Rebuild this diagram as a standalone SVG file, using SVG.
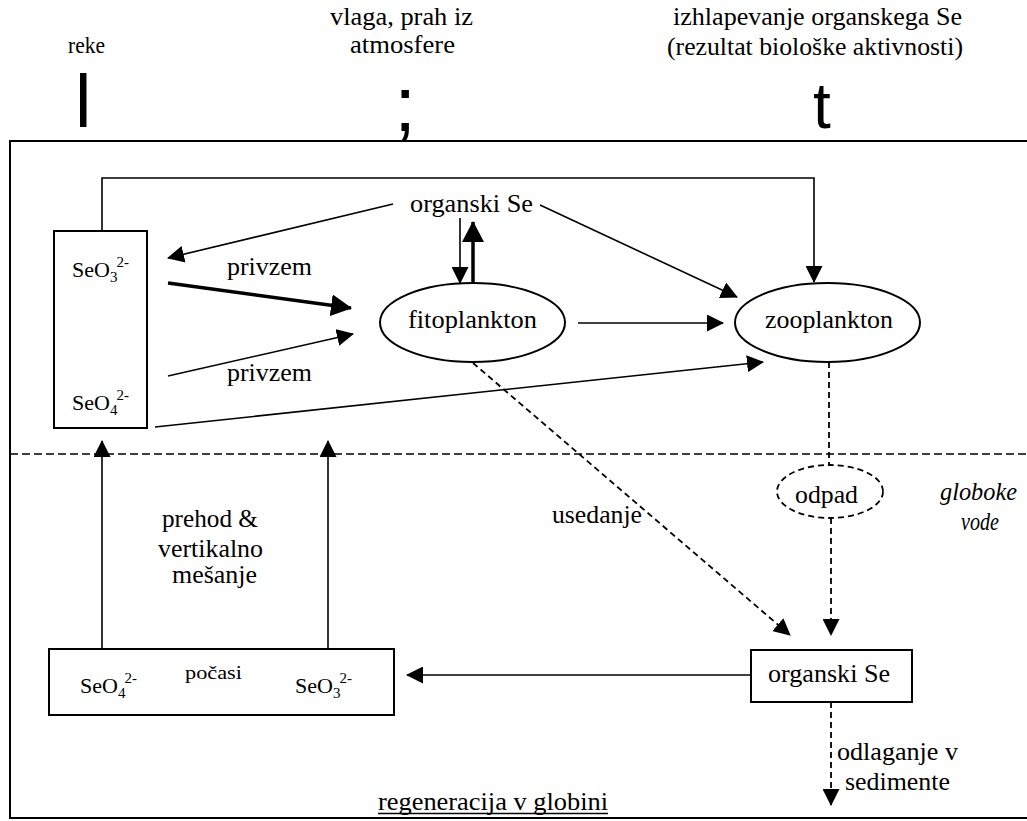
<svg xmlns="http://www.w3.org/2000/svg" width="1027" height="821" viewBox="0 0 1027 821">
<style>
text{font-family:"Liberation Serif","Times New Roman",serif;font-size:25px;fill:#000}
text.big{font-family:"Liberation Sans",Arial,sans-serif}
text.f{font-size:22px}
.ln{fill:none;stroke:#000;stroke-width:1.6}
.th{fill:none;stroke:#000;stroke-width:3.5}
.ds{fill:none;stroke:#000;stroke-width:1.8;stroke-dasharray:6,4}
.bx{fill:#fff;stroke:#000;stroke-width:2}
.el{fill:#fff;stroke:#000;stroke-width:2}
text .sm{font-size:15px}
</style>
<defs>
<marker id="a" markerUnits="userSpaceOnUse" markerWidth="17" markerHeight="17" refX="16" refY="8.5" orient="auto"><path d="M0,0 L17,8.5 L0,17 z" fill="#000"/></marker>
<marker id="ab" markerUnits="userSpaceOnUse" markerWidth="21" markerHeight="22" refX="20" refY="11" orient="auto"><path d="M0,0 L21,11 L0,22 z" fill="#000"/></marker>
</defs>
<rect width="1027" height="821" fill="#fff"/>
<g id="frame">
<path d="M1030,141 H10 V818 H1030" fill="none" stroke="#000" stroke-width="2"/>
<line x1="10" y1="454" x2="1027" y2="454" stroke="#000" stroke-width="1.6" stroke-dasharray="8,4"/>
</g>
<g id="inputs">
<text x="68" y="53" style="font-size:23px" textLength="37" lengthAdjust="spacingAndGlyphs">reke</text>
<text class="big" x="75" y="127" style="font-size:74px">l</text>
<text x="330" y="25" textLength="143" lengthAdjust="spacingAndGlyphs">vlaga, prah iz</text>
<text x="350" y="53" textLength="105" lengthAdjust="spacingAndGlyphs">atmosfere</text>
<text class="big" x="405" y="131" style="font-size:78px" text-anchor="middle">;</text>
<text x="673" y="25" textLength="289" lengthAdjust="spacingAndGlyphs">izhlapevanje organskega Se</text>
<text x="667" y="55" textLength="296" lengthAdjust="spacingAndGlyphs">(rezultat biološke aktivnosti)</text>
<text class="big" x="822" y="128" style="font-size:64px" text-anchor="middle">t</text>
</g>
<g id="connectors">
<path class="ln" d="M102,231 V178 H814 V282" marker-end="url(#a)"/>
<line class="ln" x1="393" y1="204" x2="168" y2="258" marker-end="url(#a)"/>
<line class="ln" x1="540" y1="205" x2="737" y2="297" marker-end="url(#a)"/>
<line class="ln" x1="460" y1="218" x2="460" y2="283" marker-end="url(#a)"/>
<line class="th" x1="473" y1="283" x2="473" y2="222" marker-end="url(#ab)"/>
<line class="th" x1="168" y1="283" x2="351" y2="308" marker-end="url(#ab)"/>
<line class="ln" x1="168" y1="376" x2="353" y2="334" stroke-width="2" marker-end="url(#a)"/>
<line class="ln" x1="578" y1="323" x2="723" y2="323" stroke-width="2.4" marker-end="url(#a)"/>
<line class="ln" x1="155" y1="427" x2="763" y2="362" stroke-width="2" marker-end="url(#a)"/>
<line class="ln" x1="94" y1="297" x2="94" y2="387" stroke-width="2" marker-end="url(#a)"/>
<line class="ds" x1="829" y1="362" x2="829" y2="465"/>
<line class="ds" x1="831" y1="518" x2="831" y2="635" marker-end="url(#a)"/>
<line class="ds" x1="473" y1="363" x2="790" y2="635" marker-end="url(#a)"/>
<line class="ln" x1="751" y1="675" x2="407" y2="675" marker-end="url(#a)"/>
<line class="ln" x1="102" y1="649" x2="102" y2="441" marker-end="url(#a)"/>
<line class="ln" x1="328" y1="649" x2="328" y2="441" marker-end="url(#a)"/>
<line class="ln" x1="262" y1="688" x2="157" y2="688" stroke-width="2" marker-end="url(#a)"/>
<line class="ds" x1="831" y1="702" x2="831" y2="805" marker-end="url(#a)"/>
</g>
<g id="surface-box">
<rect class="bx" x="54" y="231" width="93" height="197" fill="none"/>
<text class="f" x="72" y="277">SeO<tspan class="sm" dy="5">3</tspan><tspan class="sm" dx="-1" dy="-15">2-</tspan></text>
<text class="f" x="72" y="410">SeO<tspan class="sm" dy="5">4</tspan><tspan class="sm" dx="-1" dy="-15">2-</tspan></text>
</g>
<g id="organski-se-top">
<text x="410" y="212" textLength="123" lengthAdjust="spacingAndGlyphs">organski Se</text>
</g>
<g id="labels">
<text x="227" y="275" textLength="85" lengthAdjust="spacingAndGlyphs">privzem</text>
<text x="227" y="381" textLength="85" lengthAdjust="spacingAndGlyphs">privzem</text>
<text x="552" y="523" textLength="90" lengthAdjust="spacingAndGlyphs">usedanje</text>
<text x="162" y="527" textLength="96" lengthAdjust="spacingAndGlyphs">prehod &amp;</text>
<text x="158" y="557" textLength="105" lengthAdjust="spacingAndGlyphs">vertikalno</text>
<text x="172" y="583" textLength="85" lengthAdjust="spacingAndGlyphs">mešanje</text>
<text x="940" y="500" font-style="italic" textLength="77" lengthAdjust="spacingAndGlyphs">globoke</text>
<text x="961" y="530" font-style="italic" textLength="38" lengthAdjust="spacingAndGlyphs">vode</text>
<text x="837" y="760" textLength="121" lengthAdjust="spacingAndGlyphs">odlaganje v</text>
<text x="845" y="790" textLength="105" lengthAdjust="spacingAndGlyphs">sedimente</text>
<text x="378" y="810" textLength="230" lengthAdjust="spacingAndGlyphs">regeneracija v globini</text>
<line x1="378" y1="813.5" x2="608" y2="813.5" stroke="#000" stroke-width="1.3"/>
</g>
<g id="fitoplankton">
<ellipse class="el" cx="472.5" cy="322.5" rx="92.5" ry="39.5"/>
<text x="408" y="328" textLength="129" lengthAdjust="spacingAndGlyphs">fitoplankton</text>
</g>
<g id="zooplankton">
<ellipse class="el" cx="827.5" cy="322.5" rx="92.5" ry="39.5"/>
<text x="765" y="328" textLength="128" lengthAdjust="spacingAndGlyphs">zooplankton</text>
</g>
<g id="odpad">
<ellipse cx="830" cy="491.5" rx="53" ry="26.5" fill="#fff" stroke="#000" stroke-width="1.8" stroke-dasharray="6,4"/>
<text x="795" y="503" textLength="63" lengthAdjust="spacingAndGlyphs">odpad</text>
</g>
<g id="organski-se-deep">
<rect class="bx" x="751" y="650" width="161" height="52"/>
<text x="768" y="682" textLength="122" lengthAdjust="spacingAndGlyphs">organski Se</text>
</g>
<g id="deep-box">
<rect class="bx" x="49" y="649" width="345" height="66" fill="none"/>
<text class="f" x="80" y="693">SeO<tspan class="sm" dy="5">4</tspan><tspan class="sm" dx="-1" dy="-15">2-</tspan></text>
<text class="f" x="295" y="693">SeO<tspan class="sm" dy="5">3</tspan><tspan class="sm" dx="-1" dy="-15">2-</tspan></text>
<text x="185" y="679" style="font-size:19px" textLength="57" lengthAdjust="spacingAndGlyphs">počasi</text>
</g>
</svg>
